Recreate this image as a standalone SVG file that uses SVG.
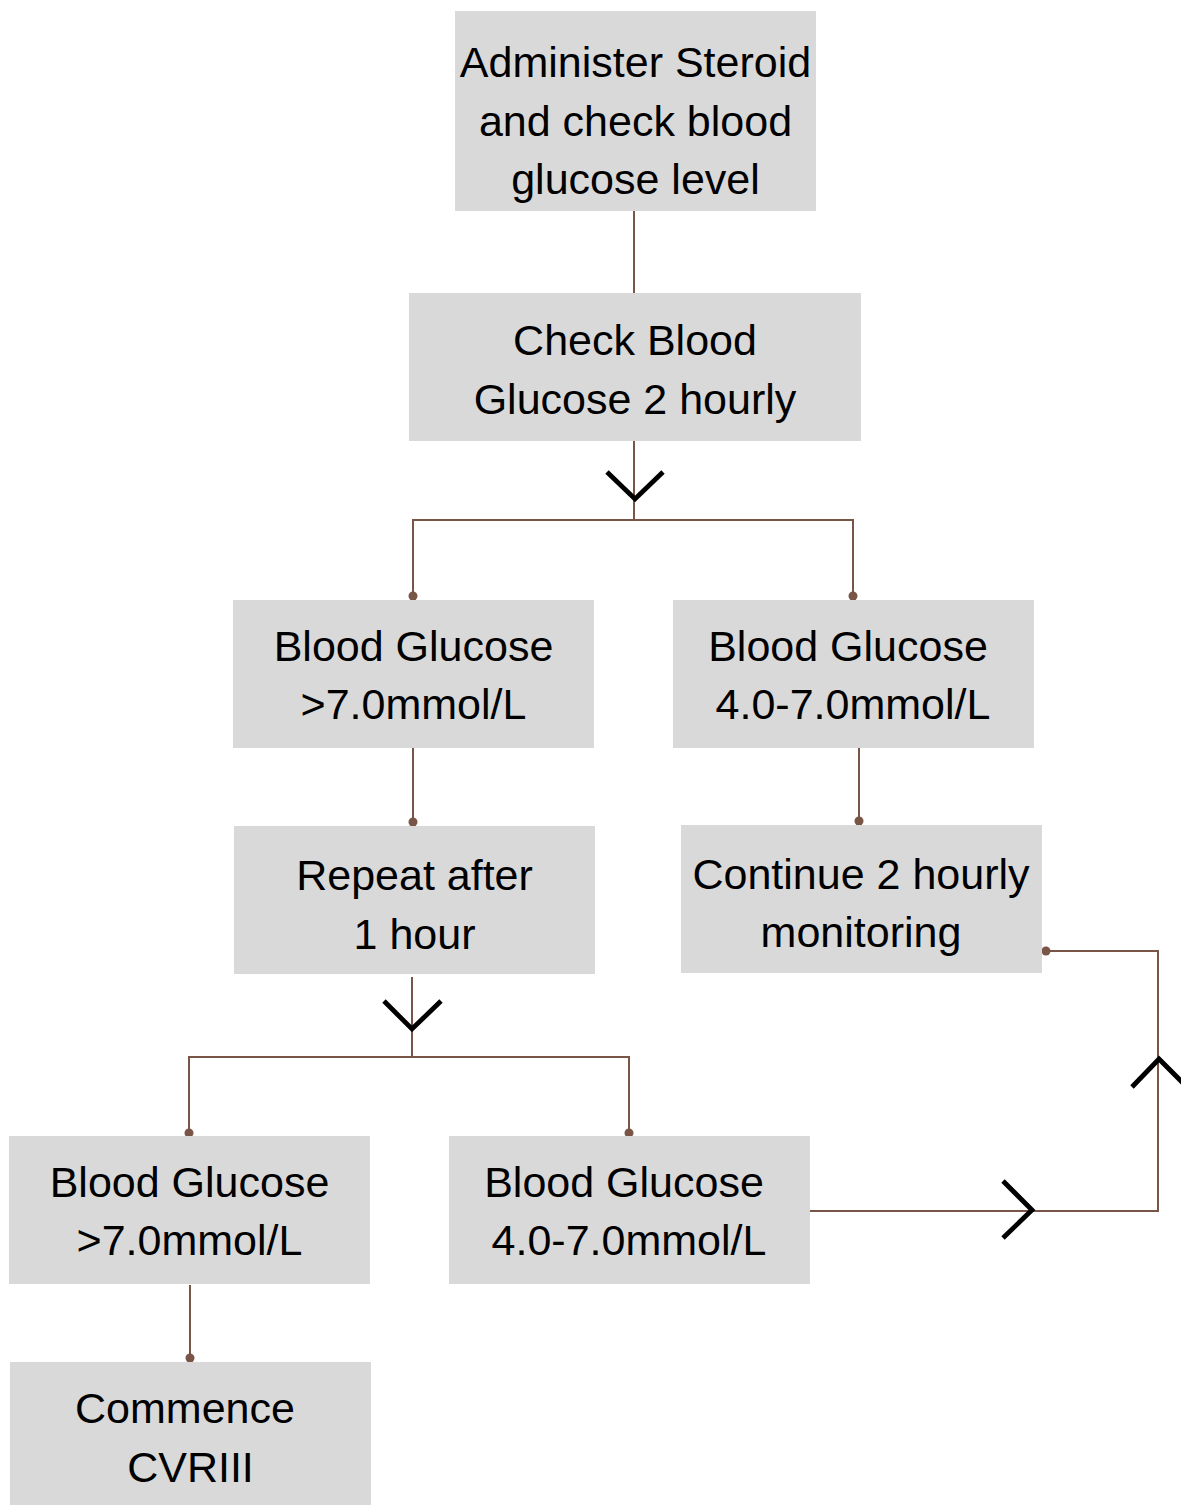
<svg xmlns="http://www.w3.org/2000/svg" width="1181" height="1505" viewBox="0 0 1181 1505">
<style>
.box{fill:#d9d9d9}
.t{font-family:"Liberation Sans",Arial,sans-serif;font-size:43px;fill:#000;text-anchor:middle}
.c{fill:none;stroke:#795548;stroke-width:2}
.d{fill:#795548}
.a{fill:none;stroke:#000;stroke-width:4.8}
</style>
<rect width="1181" height="1505" fill="#fff"/>
<g id="connectors">
<path class="c" d="M634 211V293"/>
<path class="c" d="M634 441V520M413 596V520H853V596"/>
<circle class="d" cx="413" cy="596" r="4.5"/><circle class="d" cx="853" cy="596" r="4.5"/>
<polyline class="a" points="607,472 635,499 663,472"/>
<path class="c" d="M413 748V822"/><circle class="d" cx="413" cy="822" r="4.5"/>
<path class="c" d="M859 748V821"/><circle class="d" cx="859" cy="821" r="4.5"/>
<path class="c" d="M412 977V1057M189 1133V1057H629V1133"/>
<circle class="d" cx="189" cy="1133" r="4.5"/><circle class="d" cx="629" cy="1133" r="4.5"/>
<polyline class="a" points="384,1001 412,1029 441,1001"/>
<path class="c" d="M190 1285V1358"/><circle class="d" cx="190" cy="1358" r="4.5"/>
<path class="c" d="M810 1211H1158V951H1046"/><circle class="d" cx="1046" cy="951" r="4.5"/>
<polyline class="a" points="1003,1181 1032,1210 1003,1238"/>
<polyline class="a" points="1132,1087 1159,1059 1187,1087"/>
</g>
<g id="n1"><rect class="box" x="455" y="11" width="361" height="200"/>
<text class="t" x="635.5" y="77">Administer Steroid</text><text class="t" x="635.5" y="136">and check blood</text><text class="t" x="635.5" y="194">glucose level</text></g>
<g id="n2"><rect class="box" x="409" y="293" width="452" height="148"/>
<text class="t" x="635" y="355">Check Blood</text><text class="t" x="635" y="414">Glucose 2 hourly</text></g>
<g id="n3"><rect class="box" x="233" y="600" width="361" height="148"/>
<text class="t" x="413.5" y="661">Blood Glucose</text><text class="t" x="413.5" y="719">&gt;7.0mmol/L</text></g>
<g id="n4"><rect class="box" x="673" y="600" width="361" height="148"/>
<text class="t" x="848" y="661">Blood Glucose</text><text class="t" x="853" y="719">4.0-7.0mmol/L</text></g>
<g id="n5"><rect class="box" x="234" y="826" width="361" height="148"/>
<text class="t" x="414.5" y="890">Repeat after</text><text class="t" x="414.5" y="949">1 hour</text></g>
<g id="n6"><rect class="box" x="681" y="825" width="361" height="148"/>
<text class="t" x="861" y="889">Continue 2 hourly</text><text class="t" x="861" y="947">monitoring</text></g>
<g id="n7"><rect class="box" x="9" y="1136" width="361" height="148"/>
<text class="t" x="189.5" y="1197">Blood Glucose</text><text class="t" x="189.5" y="1255">&gt;7.0mmol/L</text></g>
<g id="n8"><rect class="box" x="449" y="1136" width="361" height="148"/>
<text class="t" x="624" y="1197">Blood Glucose</text><text class="t" x="629" y="1255">4.0-7.0mmol/L</text></g>
<g id="n9"><rect class="box" x="10" y="1362" width="361" height="143"/>
<text class="t" x="185" y="1423">Commence</text><text class="t" x="190.5" y="1482">CVRIII</text></g>
</svg>
